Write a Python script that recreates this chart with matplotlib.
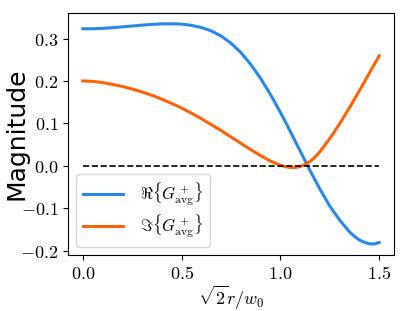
import numpy as np
import matplotlib
matplotlib.use("Agg")
import matplotlib.pyplot as plt

plt.rcParams['mathtext.fontset'] = 'cm'

# radial coordinate sqrt(2) r / w0
r = [0.00, 0.05, 0.10, 0.15, 0.20, 0.25, 0.30, 0.35, 0.40, 0.45,
     0.50, 0.55, 0.60, 0.65, 0.70, 0.75, 0.80, 0.85, 0.90, 0.95,
     1.00, 1.025, 1.05, 1.075, 1.10, 1.125, 1.15, 1.175, 1.20, 1.25,
     1.30, 1.35, 1.375, 1.40, 1.425, 1.45, 1.475, 1.50]

# real part of G_avg^+
g_real = [0.323, 0.323, 0.324, 0.3255, 0.3275, 0.3295, 0.3315, 0.3333, 0.3345, 0.3348,
          0.334, 0.331, 0.326, 0.318, 0.306, 0.289, 0.267, 0.239, 0.206, 0.168,
          0.126, 0.104, 0.081, 0.058, 0.035, 0.012, -0.011, -0.033, -0.055, -0.095,
          -0.128, -0.156, -0.1665, -0.175, -0.1805, -0.184, -0.1845, -0.181]

# imaginary part of G_avg^+
g_imag = [0.200, 0.199, 0.196, 0.192, 0.187, 0.181, 0.174, 0.166, 0.157, 0.147,
          0.136, 0.124, 0.111, 0.097, 0.083, 0.068, 0.053, 0.038, 0.024, 0.011,
          0.001, -0.002, -0.004, -0.004, -0.002, 0.003, 0.010, 0.020, 0.033, 0.064,
          0.099, 0.137, 0.157, 0.177, 0.1975, 0.218, 0.2385, 0.259]

labels = [r'$\Re\{G^+_{\rm avg}\}$', r'$\Im\{G^+_{\rm avg}\}$']
xticks = [0.0, 0.5, 1.0, 1.5]
yticks = [-0.2, -0.1, 0.0, 0.1, 0.2, 0.3]

fig = plt.figure(figsize=(4.07, 3.11), dpi=100)
ax = fig.add_axes([0.167, 0.18, 0.801, 0.779])

ax.plot(r, g_real, color='#2888ea', lw=2.2, label=labels[0])
ax.plot(r, g_imag, color='#ff6308', lw=2.2, label=labels[1])
ax.plot([r[0], r[-1]], [0, 0], 'k--', lw=1.2)

ax.set_xticks(xticks)
ax.set_xticklabels([f'${t:.1f}$' for t in xticks])
ax.set_yticks(yticks)
ax.set_yticklabels([f'${t:.1f}$' for t in yticks])
ax.tick_params(labelsize=13)
ax.set_xlabel(r'$\sqrt{2}r/w_0$', fontsize=13, labelpad=1)
ax.set_ylabel('Magnitude', fontsize=18)
ax.yaxis.set_label_coords(-0.122, 0.5)
ax.legend(loc='lower left', fontsize=12, handlelength=2.4, handletextpad=1.0,
          labelspacing=0.3, borderpad=0.4)

fig.savefig('out.png', dpi=100)
